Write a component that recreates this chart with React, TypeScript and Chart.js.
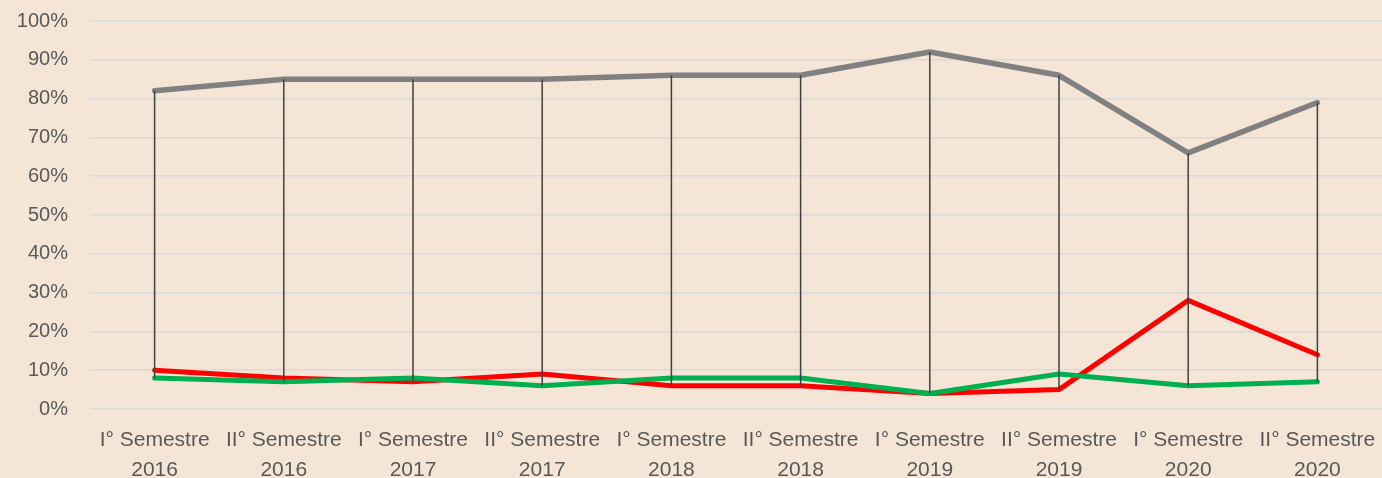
import React, { useEffect, useRef } from "react";
import { Chart, registerables } from "chart.js";

Chart.register(...registerables);

const categories: string[][] = [
  ["I° Semestre", "2016"],
  ["II° Semestre", "2016"],
  ["I° Semestre", "2017"],
  ["II° Semestre", "2017"],
  ["I° Semestre", "2018"],
  ["II° Semestre", "2018"],
  ["I° Semestre", "2019"],
  ["II° Semestre", "2019"],
  ["I° Semestre", "2020"],
  ["II° Semestre", "2020"],
];

const graySeries = [82, 85, 85, 85, 86, 86, 92, 86, 66, 79];
const redSeries = [10, 8, 7, 9, 6, 6, 4, 5, 28, 14];
const greenSeries = [8, 7, 8, 6, 8, 8, 4, 9, 6, 7];

const yTicks = [0, 10, 20, 30, 40, 50, 60, 70, 80, 90, 100];

const BG = "#F4E5D6";

const highLowPlugin = {
  id: "highLow",
  afterDatasetsDraw(chart: any) {
    const { ctx, scales } = chart;
    const x = scales.x;
    const y = scales.y;
    const sets = chart.data.datasets;
    const n = chart.data.labels.length;
    ctx.save();
    ctx.strokeStyle = "#404040";
    ctx.lineWidth = 1.5;
    for (let i = 0; i < n; i++) {
      const vals = sets.map((d: any) => d.data[i] as number);
      const hi = Math.max(...vals);
      const lo = Math.min(...vals);
      const px = x.getPixelForValue(i);
      ctx.beginPath();
      ctx.moveTo(px, y.getPixelForValue(hi));
      ctx.lineTo(px, y.getPixelForValue(lo));
      ctx.stroke();
    }
    ctx.restore();
  },
};

export default function App() {
  const ref = useRef<HTMLCanvasElement | null>(null);

  useEffect(() => {
    document.body.style.margin = "0";
    document.body.style.background = BG;
    if (!ref.current) return;
    const lineCommon = {
      pointRadius: 0,
      pointHoverRadius: 0,
      borderCapStyle: "round" as const,
      borderJoinStyle: "round" as const,
      tension: 0,
      fill: false,
    };
    const chart = new Chart(ref.current, {
      type: "line",
      data: {
        labels: categories,
        datasets: [
          { ...lineCommon, label: "Grigio", data: graySeries, borderColor: "#808080", borderWidth: 5.5, order: 3 },
          { ...lineCommon, label: "Rosso", data: redSeries, borderColor: "#FF0000", borderWidth: 5, order: 2 },
          { ...lineCommon, label: "Verde", data: greenSeries, borderColor: "#00B050", borderWidth: 5, order: 1 },
        ],
      },
      options: {
        animation: false,
        responsive: true,
        maintainAspectRatio: false,
        layout: { padding: { top: 21, right: 0, bottom: 0, left: 0 } },
        plugins: {
          legend: { display: false },
          tooltip: { enabled: false },
        },
        scales: {
          x: {
            offset: true,
            grid: { display: false, drawTicks: false },
            border: { display: false },
            ticks: {
              color: "#595959",
              padding: 16,
              maxRotation: 0,
              autoSkip: false,
              font: { family: "'Liberation Sans', Arial, sans-serif", size: 21, lineHeight: 1.43 },
            },
            afterFit: (s: any) => {
              s.height = 69;
              s.paddingLeft = 0;
              s.paddingRight = 0;
            },
          },
          y: {
            min: 0,
            max: 100,
            afterBuildTicks: (s: any) => {
              s.ticks = yTicks.map((v) => ({ value: v }));
            },
            grid: { color: "#D9D9D9", lineWidth: 1.5, drawTicks: false },
            border: { display: false },
            ticks: {
              color: "#595959",
              padding: 22,
              font: { family: "'Liberation Sans', Arial, sans-serif", size: 20 },
              callback: (v: any) => `${v}%`,
            },
            afterFit: (s: any) => {
              s.width = 90;
              s.paddingTop = 0;
              s.paddingBottom = 0;
            },
          },
        },
      },
      plugins: [highLowPlugin],
    });
    return () => chart.destroy();
  }, []);

  return (
    <div style={{ width: 1382, height: 478, position: "relative", background: BG }}>
      <canvas ref={ref} />
    </div>
  );
}
